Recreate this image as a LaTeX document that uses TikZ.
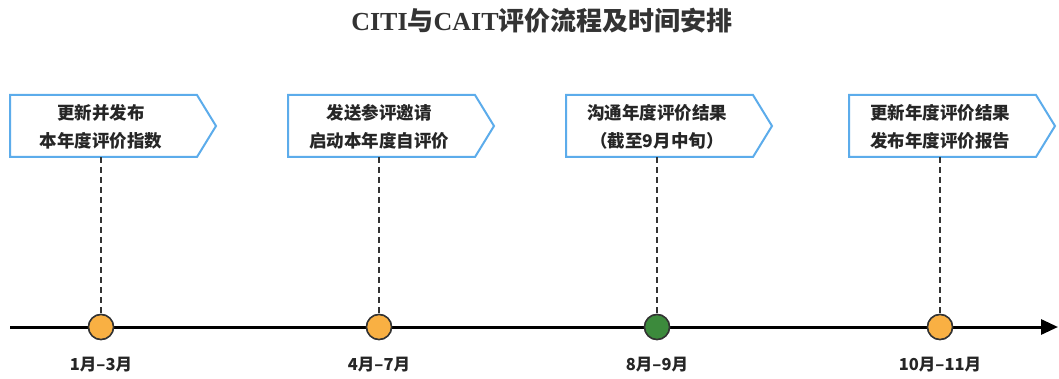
\documentclass[tikz,border=0pt]{standalone}
\usepackage{fontspec}
\setmainfont{Liberation Serif}
\newfontfamily\cjk{Noto Sans CJK SC}
\newfontfamily\serifb{Liberation Serif}
\usetikzlibrary{arrows.meta}
\definecolor{boxblue}{HTML}{5CACEB}
\definecolor{dotorange}{HTML}{F9B043}
\definecolor{dotgreen}{HTML}{3C8A3C}
\definecolor{edgegray}{HTML}{333333}
\tikzset{
  stagebox/.style={draw=boxblue, line width=2pt, fill=white},
  stagetext/.style={font=\cjk\bfseries\fontsize{17.5}{28}\selectfont, align=center, text=black!85},
  dot/.style={circle, draw=edgegray, line width=1.5pt, minimum size=25pt, inner sep=0pt},
  datelabel/.style={font=\cjk\bfseries\fontsize{16.5}{18}\selectfont, text=black!85},
  guide/.style={draw=black!80, line width=1.8pt, dash pattern=on 6pt off 4pt},
}
\begin{document}
\begin{tikzpicture}[x=1pt,y=-1pt]
\useasboundingbox (0,0) rectangle (1059,379);
\node[font=\bfseries\fontsize{26}{28}\selectfont, text=black!80] (title) at (542,21)
  {{\serifb CITI}{\cjk 与}{\serifb CAIT}{\cjk 评价流程及时间安排}};
% axis
\coordinate (axs) at (10,327);
\coordinate (axe) at (1058,327);
\draw[line width=3pt, -{Triangle[length=17pt,width=15pt]}] (axs) -- (axe);
% stages
\foreach \i/\cx/\col/\la/\lb/\dt in {
  1/101/dotorange/更新并发布/本年度评价指数/1月–3月,
  2/379/dotorange/发送参评邀请/启动本年度自评价/4月–7月,
  3/657/dotgreen/沟通年度评价结果/（截至9月中旬）/8月–9月,
  4/940/dotorange/更新年度评价结果/发布年度评价报告/10月–11月}{
  \draw[stagebox] (\cx-91,95) -- (\cx+96,95) -- (\cx+115,126) -- (\cx+96,157) -- (\cx-91,157) -- cycle;
  \node[stagetext] (box\i) at (\cx,127) {\la\\\lb};
  \coordinate (bb\i) at (\cx,157);
  \node[dot, fill=\col] (dot\i) at (\cx,327) {};
  \draw[guide] (bb\i) -- (dot\i.north);
  \node[dot, fill=\col] at (\cx,327) {};
  \node[datelabel] (date\i) at (\cx,365) {\dt};
}
\end{tikzpicture}
\end{document}
